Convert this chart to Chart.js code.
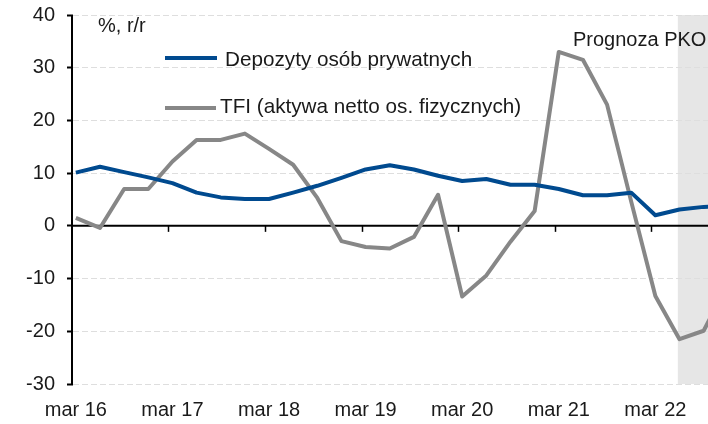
<!DOCTYPE html>
<html>
<head>
<meta charset="utf-8">
<script src="https://cdn.jsdelivr.net/npm/chart.js@4/dist/chart.umd.min.js"></script>
<style>
  html, body { margin: 0; padding: 0; background: #ffffff; }
  #wrap { width: 708px; height: 424px; }
</style>
</head>
<body>
<div id="wrap"><canvas id="c" width="708" height="424"></canvas></div>
<script>
// Quarterly observations, mar 16 .. gru 22
const categories = [
  'mar 16','cze 16','wrz 16','gru 16',
  'mar 17','cze 17','wrz 17','gru 17',
  'mar 18','cze 18','wrz 18','gru 18',
  'mar 19','cze 19','wrz 19','gru 19',
  'mar 20','cze 20','wrz 20','gru 20',
  'mar 21','cze 21','wrz 21','gru 21',
  'mar 22','cze 22','wrz 22','gru 22'
];
const depozyty = [10.1, 11.2, 10.2, 9.2, 8.1, 6.3, 5.4, 5.1, 5.1, 6.3, 7.6, 9.1, 10.7, 11.5, 10.7, 9.5, 8.5, 8.9, 7.8, 7.8, 7.0, 5.8, 5.8, 6.3, 2.0, 3.1, 3.6, 3.7];
const tfi = [1.5, -0.4, 7.0, 7.0, 12.2, 16.3, 16.3, 17.5, 14.6, 11.6, 5.3, -2.9, -4.0, -4.3, -2.1, 5.9, -13.4, -9.4, -3.0, 2.8, 33.0, 31.5, 23.0, 4.6, -13.3, -21.5, -19.9, -11.0];
const xTickLabels = ['mar 16','mar 17','mar 18','mar 19','mar 20','mar 21','mar 22'];
const yTicks = [-30, -20, -10, 0, 10, 20, 30, 40];
const seriesNames = ['Depozyty osób prywatnych', 'TFI (aktywa netto os. fizycznych)'];
const unitLabel = '%, r/r';
const forecastLabel = 'Prognoza PKO';
const forecastStart = 'cze 22';

const BLUE = '#004a8f';
const GREY = '#878787';
const FONT = '"Liberation Sans", Arial, sans-serif';
const TEXT = '#1a1a1a';

const toPts = arr => arr.map((v, i) => ({ x: i, y: v }));
const tickIdx = xTickLabels.map(l => categories.indexOf(l));
const fcIdx = categories.indexOf(forecastStart);

const decor = {
  id: 'decor',
  beforeDraw(chart) {
    const { ctx, chartArea: a, scales: { x } } = chart;
    const x0 = x.getPixelForValue(fcIdx - 0.07);
    ctx.save();
    ctx.fillStyle = '#e6e6e6';
    ctx.fillRect(x0, a.top, a.right - x0, a.bottom - a.top);
    ctx.restore();
  },
  beforeDatasetsDraw(chart) {
    const { ctx, chartArea: a, scales: { x, y } } = chart;
    const y0 = y.getPixelForValue(0);
    ctx.save();
    ctx.strokeStyle = '#000';
    ctx.lineWidth = 2;
    ctx.beginPath();
    ctx.moveTo(a.left, y0); ctx.lineTo(a.right, y0);
    ctx.stroke();
    ctx.beginPath();
    ctx.moveTo(a.left - 1, a.top); ctx.lineTo(a.left - 1, a.bottom + 1);
    ctx.stroke();
    // year ticks on zero line
    ctx.lineWidth = 1.5;
    for (let k = 1; k < tickIdx.length; k++) {
      const px = Math.round(x.getPixelForValue(tickIdx[k] - 0.17)) + 0.5;
      ctx.beginPath();
      ctx.moveTo(px, y0); ctx.lineTo(px, y0 + 6);
      ctx.stroke();
    }
    ctx.restore();
  },
  afterDatasetsDraw(chart) {
    const { ctx } = chart;
    ctx.save();
    ctx.lineWidth = 4;
    ctx.lineCap = 'butt';
    ctx.strokeStyle = BLUE;
    ctx.beginPath(); ctx.moveTo(165, 58); ctx.lineTo(217, 58); ctx.stroke();
    ctx.strokeStyle = GREY;
    ctx.beginPath(); ctx.moveTo(165, 108); ctx.lineTo(216, 108); ctx.stroke();
    ctx.fillStyle = TEXT;
    ctx.font = '20.7px ' + FONT;
    ctx.textBaseline = 'alphabetic';
    ctx.textAlign = 'left';
    ctx.fillText(seriesNames[0], 225, 66);
    ctx.fillText(seriesNames[1], 220, 113);
    ctx.font = '20px ' + FONT;
    ctx.fillText(unitLabel, 98, 32);
    ctx.fillText(forecastLabel, 573, 46);
    ctx.restore();
  }
};

new Chart(document.getElementById('c'), {
  type: 'line',
  data: {
    datasets: [
      { label: seriesNames[0], data: toPts(depozyty), borderColor: BLUE, borderWidth: 4, pointRadius: 0, tension: 0, borderJoinStyle: 'round', fill: false },
      { label: seriesNames[1], data: toPts(tfi), borderColor: GREY, borderWidth: 4, pointRadius: 0, tension: 0, borderJoinStyle: 'round', fill: false }
    ]
  },
  options: {
    responsive: false,
    devicePixelRatio: 1,
    animation: false,
    events: [],
    layout: { padding: { top: 15, right: 0, left: 0, bottom: 0 } },
    plugins: { legend: { display: false }, tooltip: { enabled: false } },
    scales: {
      x: {
        type: 'linear',
        min: -0.118,
        max: 26.18,
        grid: { display: false, drawTicks: false },
        border: { display: false },
        afterBuildTicks: s => { s.ticks = tickIdx.map(v => ({ value: v })); },
        afterFit: s => { s.height = 40; s.paddingLeft = 0; s.paddingRight = 0; },
        ticks: {
          autoSkip: false,
          maxRotation: 0,
          padding: 14,
          color: TEXT,
          font: { family: FONT, size: 20 },
          callback: v => categories[v]
        }
      },
      y: {
        min: -30,
        max: 40,
        afterBuildTicks: s => { s.ticks = yTicks.map(v => ({ value: v })); },
        afterFit: s => { s.width = 73; s.paddingTop = 0; s.paddingBottom = 0; },
        grid: {
          color: c => (c.tick && c.tick.value === 0) ? 'rgba(0,0,0,0)' : '#dedede',
          lineWidth: 1,
          drawTicks: true,
          tickLength: 6,
          tickColor: '#000',
          tickWidth: 2,
          tickBorderDash: []
        },
        border: { display: false, dash: [6, 3] },
        ticks: {
          padding: 12,
          color: TEXT,
          font: { family: FONT, size: 20 }
        }
      }
    }
  },
  plugins: [decor]
});
</script>
</body>
</html>
